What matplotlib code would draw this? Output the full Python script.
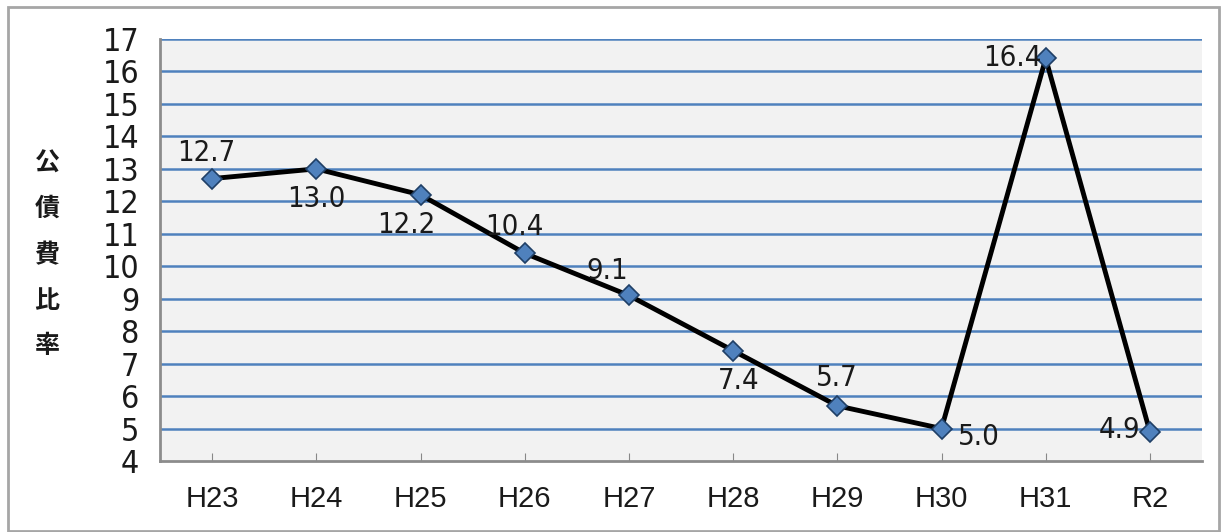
import matplotlib
matplotlib.use("Agg")
import matplotlib.pyplot as plt
from matplotlib.patches import Rectangle

years = ["H23", "H24", "H25", "H26", "H27", "H28", "H29", "H30", "H31", "R2"]
ratio = [12.7, 13.0, 12.2, 10.4, 9.1, 7.4, 5.7, 5.0, 16.4, 4.9]
# label offsets in pixels (dx, dy) and alignment per point
label_pos = [(-6, 26, "center"), (0, -30, "center"), (-14, -30, "center"), (-10, 26, "center"),
             (-22, 24, "center"), (6, -30, "center"), (0, 28, "center"), (16, -8, "left"),
             (-4, 0, "right"), (-10, 2, "right")]

cond = dict(family="DejaVu Sans", stretch="condensed")

fig = plt.figure(figsize=(12.21, 5.32), dpi=100)
fig.patches.append(Rectangle((8 / 1221, 1 / 532), 1211 / 1221, 524 / 532, transform=fig.transFigure,
                             fill=False, edgecolor="#a6a6a6", linewidth=2))
ax = fig.add_axes([160 / 1221, 1 - 461 / 532, 1042 / 1221, 422 / 532])
ax.set_facecolor("#f2f2f2")

x = list(range(len(years)))
ax.plot(x, ratio, color="black", linewidth=3.5, zorder=3,
        marker="D", markersize=10, markerfacecolor="#4f81bd", markeredgecolor="#1f3f66",
        markeredgewidth=1.2)

for i, v in enumerate(ratio):
    dx, dy, ha = label_pos[i]
    ax.annotate(f"{v:.1f}", (i, v), xytext=(dx, dy), textcoords="offset pixels",
                ha=ha, va="center", fontsize=21, color="#1a1a1a", zorder=4, **cond)

ax.set_xlim(-0.5, len(years) - 0.5)
ax.set_ylim(4, 17)
ax.set_yticks(range(4, 18))
ax.set_xticks(x)
ax.set_xticklabels(years, fontsize=21, family=["Liberation Sans", "DejaVu Sans"], color="#1a1a1a")
for t in ax.get_yticklabels():
    t.set_fontsize(23)
    t.set_family("DejaVu Sans")
    t.set_stretch("condensed")
    t.set_color("#1a1a1a")
ax.tick_params(axis="y", length=0, pad=15)
ax.tick_params(axis="x", direction="in", length=6, color="#888888", pad=17)

for yv in range(5, 18):
    ax.axhline(yv, color="#4f81bd", linewidth=1.8, zorder=1)

for s in ["top", "right"]:
    ax.spines[s].set_visible(False)
for s in ["left", "bottom"]:
    ax.spines[s].set_color("#8c8c8c")
    ax.spines[s].set_linewidth(2)

fig.text(47 / 1221, 1 - 255 / 532, "\n".join("公債費比率"), ha="center", va="center",
         fontsize=18, fontweight="bold", linespacing=2.13,
         family=["Noto Sans CJK JP", "DejaVu Sans"], color="#1a1a1a")

fig.savefig("out.png", dpi=100)
